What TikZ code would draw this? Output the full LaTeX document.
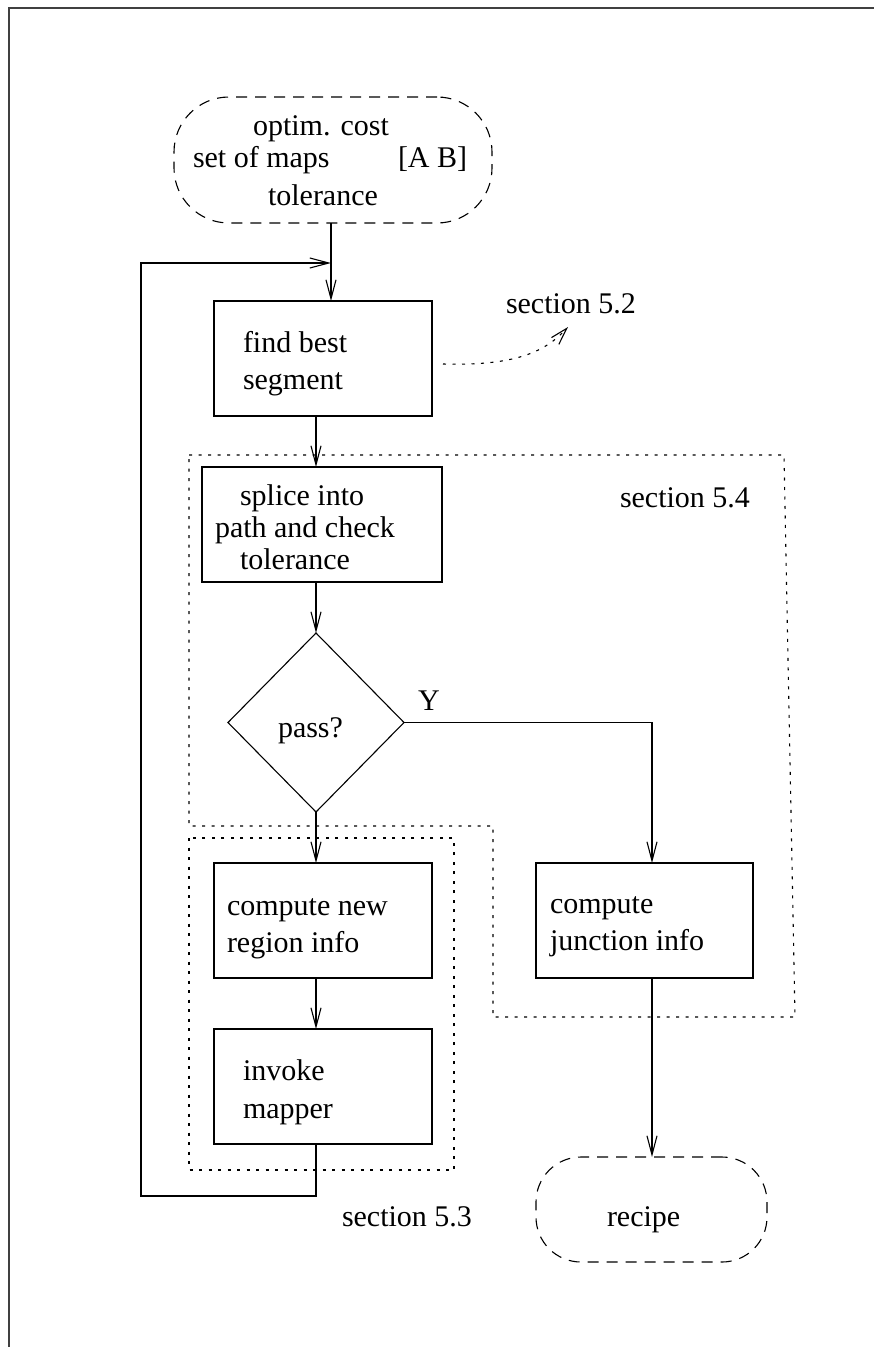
\documentclass[tikz,border=0pt]{standalone}
\usepackage{fontspec}
\setmainfont{Liberation Serif}
\usetikzlibrary{arrows.meta,shapes.geometric,calc}
\begin{document}
\begin{tikzpicture}[x=1pt,y=-1pt,
  every node/.style={inner sep=0pt,outer sep=0pt},
  txt/.style={anchor=base west,font=\fontsize{30}{36}\selectfont},
  proc/.style={draw,line width=1.1pt,minimum height=115pt},
  term/.style={draw,line width=1.1pt,dash pattern=on 11pt off 8pt},
  flow/.style={draw,line width=1.1pt,-{Straight Barb[length=19pt,width=10pt]}},
  sect/.style={draw,line width=1.1pt,dash pattern=on 3pt off 6.5pt},
  frame/.style={draw,line width=1.5pt,black!75}]
\useasboundingbox (0,0) rectangle (874,1347);

% page frame (left and top edges)
\draw[frame] (9,1347) -- (9,8) -- (874,8);

% helper columns for the connectors
\coordinate (colT) at (331,0);
\coordinate (colA) at (316,0);
\coordinate (colB) at (652,0);
\coordinate (merge) at (331,263);
\coordinate (loopL) at (141,1196);

% section outlines
\draw[sect] (189,455) -- (784,455) -- (795,1017) -- (493,1017) -- (493,826) -- (189,826) -- cycle;
\draw[sect] (189,838) rectangle (454,1170);

% start terminal
\node[term,rounded corners=55pt,minimum width=318pt,minimum height=126pt] (start) at (333,160) {};
\node[txt] (t1) at (253,135) {optim. cost};
\node[txt] (t2) at (193,167) {set of maps};
\node[txt] (t3) at (398,167) {[A B]};
\node[txt] (t4) at (268,205) {tolerance};

% process boxes
\node[proc,minimum width=218pt] (find) at (323,358.5) {};
\node[txt] (f1) at (243,352) {find best};
\node[txt] (f2) at (243,389) {segment};

\node[proc,minimum width=240pt] (splice) at (322,524.5) {};
\node[txt] (s1) at (240,505) {splice into};
\node[txt] (s2) at (215,537) {path and check};
\node[txt] (s3) at (240,569) {tolerance};

\node[draw,shape=diamond,line width=1.1pt,minimum width=176pt,minimum height=179pt] (dia) at (316,722.5) {};
\node[txt] (p1) at (278,737) {pass?};
\node[txt] (yes) at (418,710) {Y};

\node[proc,minimum width=218pt] (cnew) at (323,920.5) {};
\node[txt] (c1) at (227,915) {compute new};
\node[txt] (c2) at (227,952) {region info};

\node[proc,minimum width=218pt] (invoke) at (323,1086.5) {};
\node[txt] (i1) at (243,1080) {invoke};
\node[txt] (i2) at (243,1118) {mapper};

\node[proc,minimum width=217pt] (junc) at (644.5,920.5) {};
\node[txt] (j1) at (550,913) {compute};
\node[txt] (j2) at (550,950) {junction info};

% end terminal
\node[term,rounded corners=45pt,minimum width=231pt,minimum height=105pt] (recipe) at (651.5,1209.5) {};
\node[txt] (r1) at (607,1226) {recipe};

% section labels
\node[txt] (sec52) at (506,313) {section 5.2};
\node[txt] (sec54) at (620,507) {section 5.4};
\node[txt] (sec53) at (342,1226) {section 5.3};

% connectors
\draw[flow] (start.south -| colT) -- (find.north -| colT);
\draw[flow] (find.south -| colA) -- (splice.north -| colA);
\draw[flow] (splice.south -| colA) -- (dia.north);
\draw[flow] (dia.south) -- (cnew.north -| colA);
\draw[flow] (cnew.south -| colA) -- (invoke.north -| colA);
\draw[flow] (invoke.south -| colA) |- (loopL) |- (merge);
\draw[flow] (dia.east) -| (junc.north -| colB);
\draw[flow] (junc.south -| colB) -- (recipe.north -| colB);

% pointer to section 5.2
\coordinate (ptr) at ($(find.east)+(11,5.5)$);
\coordinate (ptrEnd) at (568,327);
\draw[line width=1.1pt,dash pattern=on 3pt off 6.5pt,-{Straight Barb[length=17pt,width=10pt]}]
  (ptr) .. controls (515,366) and (545,352) .. (ptrEnd);
\end{tikzpicture}
\end{document}
